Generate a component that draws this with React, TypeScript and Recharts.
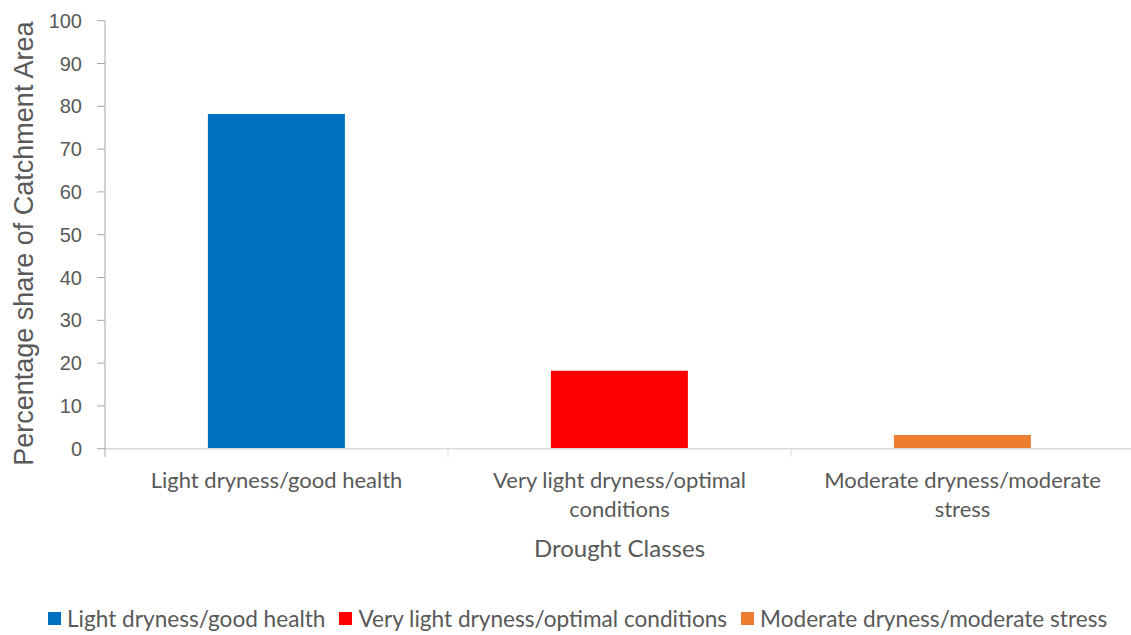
import React from 'react';
import { BarChart, Bar, XAxis, YAxis, Cell, Label } from 'recharts';

const categories: string[] = [
  'Light dryness/good health',
  'Very light dryness/optimal conditions',
  'Moderate dryness/moderate stress',
];
const shares: number[] = [78.2, 18.2, 3.2];
const barColors: string[] = ['#0070C0', '#FF0000', '#ED7D31'];
const yTicks: number[] = [0, 10, 20, 30, 40, 50, 60, 70, 80, 90, 100];
const xTitle = 'Drought Classes';
const yTitle = 'Percentage share of Catchment Area';

const data = categories.map((c, i) => ({ name: c, value: shares[i] }));

const CHART_W = 1140;
const CHART_H = 635;
const MARGIN = { top: 20.7, right: 6, bottom: 0, left: 0 };
const Y_AXIS_W = 105;
const X_AXIS_H = 186.3;
const PLOT_W = CHART_W - MARGIN.left - MARGIN.right - Y_AXIS_W;
const BAND = PLOT_W / categories.length;
const TEXT = '#595959';
const LABEL_FONT = 'Lato, "Open Sans", sans-serif';
const NUM_FONT = '"Liberation Sans", Arial, sans-serif';
const LABEL_SIZE = 22;
const WRAP_W = 300;

let measureCtx: CanvasRenderingContext2D | null = null;
function measure(s: string): number {
  if (!measureCtx) {
    const c = document.createElement('canvas');
    measureCtx = c.getContext('2d');
  }
  if (!measureCtx) return s.length * LABEL_SIZE * 0.5;
  measureCtx.font = `${LABEL_SIZE}px Lato`;
  return measureCtx.measureText(s).width;
}

function wrap(s: string, maxW: number): string[] {
  const words = s.split(' ');
  const lines: string[] = [];
  let cur = '';
  for (const w of words) {
    const cand = cur ? cur + ' ' + w : w;
    if (cur && measure(cand) > maxW) {
      lines.push(cur);
      cur = w;
    } else {
      cur = cand;
    }
  }
  if (cur) lines.push(cur);
  return lines;
}

const XTick = (props: any) => {
  const { x, y, payload, index } = props;
  const left = x - BAND / 2;
  const right = x + BAND / 2;
  const lines = wrap(String(payload.value), WRAP_W);
  return (
    <g>
      <line x1={left} y1={y} x2={left} y2={y + 8} stroke={index === 0 ? '#A6A6A6' : '#D9D9D9'} strokeWidth={1} />
      {index === categories.length - 1 && (
        <line x1={right} y1={y} x2={right} y2={y + 8} stroke="#D9D9D9" strokeWidth={1} />
      )}
      <text textAnchor="middle" fontSize={LABEL_SIZE} fontFamily={LABEL_FONT} fill={TEXT}>
        {lines.map((l, i) => (
          <tspan key={i} x={x} y={y + 39 + i * 29}>
            {l}
          </tspan>
        ))}
      </text>
    </g>
  );
};

const XTitle = (props: any) => {
  const { viewBox } = props;
  const cx = viewBox.x + viewBox.width / 2;
  return (
    <text x={cx} y={viewBox.y + 108} textAnchor="middle" fontSize={24} fontFamily={LABEL_FONT} fill={TEXT}>
      {xTitle}
    </text>
  );
};

const YTitle = (props: any) => {
  const { viewBox } = props;
  const bx = 33;
  const cy = viewBox.y + viewBox.height / 2 + 9;
  return (
    <text
      x={bx}
      y={cy}
      textAnchor="middle"
      fontSize={27}
      fontFamily={NUM_FONT}
      fill={TEXT}
      transform={`rotate(-90, ${bx}, ${cy})`}
    >
      {yTitle}
    </text>
  );
};

const LegendRow = () => (
  <div
    style={{
      position: 'absolute',
      left: 48,
      top: 605,
      display: 'flex',
      alignItems: 'center',
      fontFamily: LABEL_FONT,
      fontSize: 22.6,
      color: TEXT,
      whiteSpace: 'nowrap',
    }}
  >
    {categories.map((c, i) => (
      <div key={c} style={{ display: 'flex', alignItems: 'center', marginRight: 14 }}>
        <span style={{ display: 'inline-block', width: 13, height: 13, background: barColors[i], marginRight: 6 }} />
        <span>{c}</span>
      </div>
    ))}
  </div>
);

export default function App() {
  return (
    <div
      style={{
        position: 'absolute',
        left: 0,
        top: 0,
        width: 1131,
        height: 635,
        overflow: 'hidden',
        background: '#FFFFFF',
      }}
    >
      <BarChart width={CHART_W} height={CHART_H} data={data} margin={MARGIN} barCategoryGap="30%">
        <XAxis
          dataKey="name"
          height={X_AXIS_H}
          axisLine={{ stroke: '#D9D9D9', strokeWidth: 1.5 }}
          tickLine={false}
          tickSize={0}
          tickMargin={0}
          tick={<XTick />}
          interval={0}
        >
          <Label content={<XTitle />} />
        </XAxis>
        <YAxis
          width={Y_AXIS_W}
          domain={[0, 100]}
          ticks={yTicks}
          interval={0}
          axisLine={{ stroke: '#A6A6A6', strokeWidth: 1 }}
          tickLine={{ stroke: '#A6A6A6', strokeWidth: 1 }}
          tickSize={8}
          tickMargin={15}
          tick={{ fontSize: 20, fontFamily: NUM_FONT, fill: TEXT }}
        >
          <Label content={<YTitle />} />
        </YAxis>
        <Bar dataKey="value" isAnimationActive={false}>
          {data.map((d, i) => (
            <Cell key={d.name} fill={barColors[i]} />
          ))}
        </Bar>
      </BarChart>
      <LegendRow />
    </div>
  );
}
